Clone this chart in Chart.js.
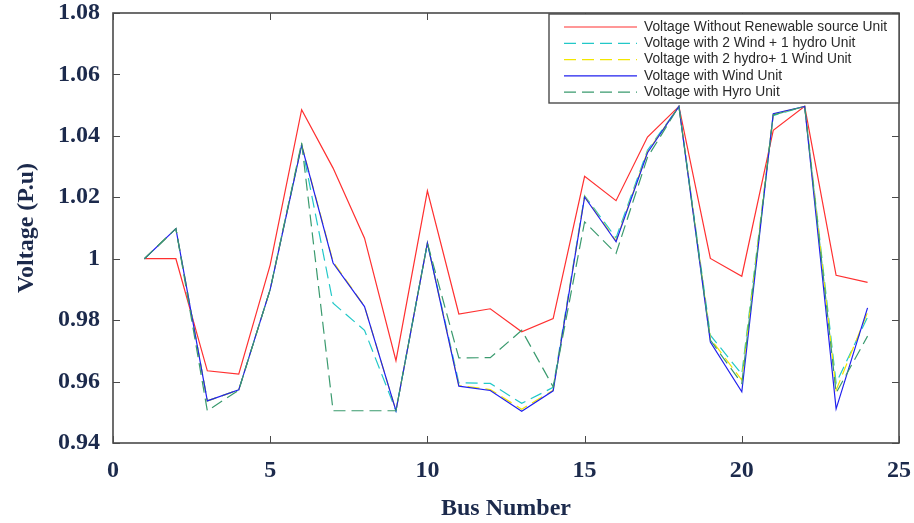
<!DOCTYPE html>
<html>
<head>
<meta charset="utf-8">
<title>Bus voltage profile</title>
<script src="https://cdn.jsdelivr.net/npm/chart.js@4.4.1/dist/chart.umd.min.js"></script>
<style>
    html, body { margin: 0; padding: 0; background: #fff; }
    #chartVoltage { display: block; }
</style>
</head>
<body>
<canvas id="chartVoltage" width="914" height="523"></canvas>
<script>
// data (P.u per bus)
const busNumbers = [1, 2, 3, 4, 5, 6, 7, 8, 9, 10, 11, 12, 13, 14, 15, 16, 17, 18, 19, 20, 21, 22, 23, 24];
const noRenewable = [1.000, 1.000, 0.9635, 0.9624, 0.998, 1.0485, 1.0295, 1.0067, 0.9668, 1.0221, 0.9820, 0.9837,
    0.9762, 0.9805, 1.0268, 1.0189, 1.0396, 1.0496, 1.0001, 0.9943, 1.0418, 1.0496, 0.9946, 0.9923];
const twoWindOneHydro = [1.000, 1.0098, 0.9537, 0.9573, 0.990, 1.0372, 0.9855, 0.9767, 0.9505, 1.0051, 0.9596, 0.9594,
    0.9529, 0.9581, 1.0205, 1.0068, 1.0353, 1.0496, 0.9751, 0.9624, 1.0466, 1.0496, 0.9595, 0.9810];
const twoHydroOneWind = [1.000, 1.0098, 0.9537, 0.9573, 0.990, 1.0372, 0.9990, 0.9845, 0.9505, 1.0051, 0.9587, 0.9574,
    0.9510, 0.9572, 1.0203, 1.0058, 1.0348, 1.0496, 0.9740, 0.9605, 1.0470, 1.0496, 0.9572, 0.9825];
const windUnit = [1.000, 1.0098, 0.9537, 0.9573, 0.990, 1.0369, 0.9986, 0.9844, 0.9505, 1.0051, 0.9585, 0.9571,
    0.9503, 0.9570, 1.0201, 1.0055, 1.0345, 1.0496, 0.9729, 0.9567, 1.0472, 1.0496, 0.9511, 0.9840];
const hydroUnit = [1.000, 1.0098, 0.9505, 0.9572, 0.990, 1.0378, 0.9505, 0.9505, 0.9505, 1.0051, 0.9677, 0.9678,
    0.9767, 0.9583, 1.0120, 1.0017, 1.0330, 1.0496, 0.9735, 0.9594, 1.0468, 1.0496, 0.9563, 0.9748];

const seriesLabels = [
    'Voltage Without Renewable source Unit',
    'Voltage with 2 Wind + 1 hydro Unit',
    'Voltage with 2 hydro+ 1 Wind Unit',
    'Voltage with Wind Unit',
    'Voltage with Hyro Unit'
];
const xTicks = [0, 5, 10, 15, 20, 25];
const yTicks = [0.94, 0.96, 0.98, 1, 1.02, 1.04, 1.06, 1.08];

const inkColor = '#1c2a4c', boxColor = '#4a4a4a';
const dashed = [12, 6];

function toPoints(values) {
    return busNumbers.map((b, i) => ({ x: b, y: values[i] }));
}

function makeSet(label, values, color, dash, order) {
    return {
        label, data: toPoints(values),
        borderColor: color, backgroundColor: color,
        borderWidth: 1.2, borderDash: dash,
        pointRadius: 0, tension: 0, fill: false,
        order // matlab draws later lines on top
    };
}

// box around the axes with inward ticks
const matlabBox = {
    id: 'matlabBox',
    afterDatasetsDraw(chart) {
        let ctx = chart.ctx, a = chart.chartArea;
        let xs = chart.scales.x, ys = chart.scales.y, len = 7;
        ctx.save();
        ctx.strokeStyle = boxColor;
        ctx.lineWidth = 1;
        ctx.beginPath();
        xTicks.forEach(v => {
            let px = Math.round(xs.getPixelForValue(v)) + 0.5;
            ctx.moveTo(px, a.bottom); ctx.lineTo(px, a.bottom - len);
            ctx.moveTo(px, a.top); ctx.lineTo(px, a.top + len);
        });
        yTicks.forEach(v => {
            let py = Math.round(ys.getPixelForValue(v)) + 0.5;
            ctx.moveTo(a.left, py); ctx.lineTo(a.left + len, py);
            ctx.moveTo(a.right, py); ctx.lineTo(a.right - len, py);
        });
        ctx.stroke();
        ctx.lineWidth = 1.6;
        ctx.strokeRect(a.left, a.top, a.right - a.left, a.bottom - a.top);
        ctx.restore();
    }
};

// legend box in the upper right corner of the axes
const legendBox = {
    id: 'legendBox',
    afterDraw(chart) {
        let ctx = chart.ctx, a = chart.chartArea;
        let w = 350, h = 89, left = a.right - w, top = a.top + 1;
        ctx.save();
        ctx.fillStyle = '#fff';
        ctx.fillRect(left, top, w, h);
        ctx.strokeStyle = boxColor;
        ctx.lineWidth = 1.4;
        ctx.strokeRect(left, top, w, h);
        ctx.font = '13.8px "Liberation Sans", Arial, sans-serif';
        ctx.textBaseline = 'middle';
        chart.data.datasets.forEach((ds, i) => {
            let y = top + 13 + i * 16.3;
            ctx.strokeStyle = ds.borderColor;
            ctx.lineWidth = 1.2;
            ctx.setLineDash(ds.borderDash || []);
            ctx.beginPath();
            ctx.moveTo(left + 15, y); ctx.lineTo(left + 88, y);
            ctx.stroke();
            ctx.setLineDash([]);
            ctx.fillStyle = '#2a2a2a';
            ctx.fillText(ds.label, left + 95, y);
        });
        ctx.restore();
    }
};

const axisFont = { family: '"Liberation Serif", "Times New Roman", serif', size: 24, weight: 'bold' };

new Chart(document.getElementById('chartVoltage').getContext('2d'), {
    type: 'line',
    data: {
        datasets: [
            makeSet(seriesLabels[0], noRenewable, '#ff3030', [], 4),
            makeSet(seriesLabels[1], twoWindOneHydro, '#22c8c8', dashed, 3),
            makeSet(seriesLabels[2], twoHydroOneWind, '#f2e600', dashed, 2),
            makeSet(seriesLabels[3], windUnit, '#2020ee', [], 1),
            makeSet(seriesLabels[4], hydroUnit, '#3a9a6e', dashed, 0)
        ]
    },
    options: {
        responsive: false,
        devicePixelRatio: 1,
        animation: false,
        layout: { padding: { left: 0, right: 15, top: 13, bottom: 0 } },
        plugins: { legend: { display: false }, tooltip: { enabled: false } },
        scales: {
            x: {
                type: 'linear', min: 0, max: 25,
                afterBuildTicks: s => { s.ticks = xTicks.map(value => ({ value })); },
                afterFit: s => { s.height = 80; s.paddingLeft = 0; s.paddingRight = 0; },
                grid: { display: false, drawTicks: false },
                border: { display: false },
                ticks: { color: inkColor, font: axisFont, padding: 13, maxRotation: 0 },
                title: { display: true, text: 'Bus Number', color: inkColor, font: axisFont, padding: { top: 0, bottom: 0 } }
            },
            y: {
                type: 'linear', min: 0.94, max: 1.08,
                afterBuildTicks: s => { s.ticks = yTicks.map(value => ({ value })); },
                afterFit: s => { s.width = 113; s.paddingTop = 0; s.paddingBottom = 0; },
                grid: { display: false, drawTicks: false },
                border: { display: false },
                ticks: { color: inkColor, font: axisFont, padding: 13, callback: v => String(+v.toFixed(2)) },
                title: { display: true, text: 'Voltage (P.u)', color: inkColor, font: axisFont, padding: { top: 12, bottom: 0 } }
            }
        }
    },
    plugins: [matlabBox, legendBox]
});
</script>
</body>
</html>
